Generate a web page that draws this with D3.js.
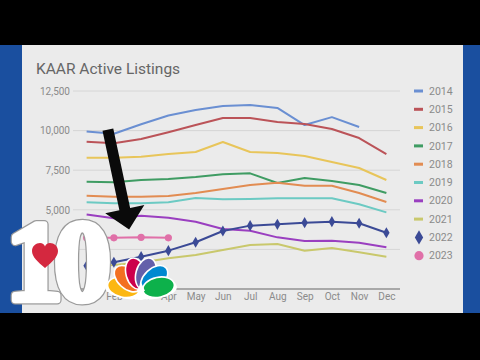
<!DOCTYPE html>
<html>
<head>
<meta charset="utf-8">
<script src="https://cdn.jsdelivr.net/npm/d3@7"></script>
<style>
  html, body { margin: 0; padding: 0; background: #000; }
  svg { display: block; }
</style>
</head>
<body>
<svg id="chart" width="480" height="360"></svg>
<script>
// Monthly active listings, KAAR, by year
const months = ["Jan","Feb","Mar","Apr","May","Jun","Jul","Aug","Sep","Oct","Nov","Dec"];
const years = ["2014","2015","2016","2017","2018","2019","2020","2021","2022","2023"];
const yTicks = [0, 2500, 5000, 7500, 10000, 12500];

const v2014 = [9950, 9800, 10400, 10950, 11300, 11550, 11620, 11430, 10350, 10850, 10230];
const v2015 = [9300, 9200, 9470, 9900, 10350, 10800, 10800, 10540, 10420, 10100, 9530, 8520];
const v2016 = [8290, 8290, 8350, 8520, 8650, 9280, 8650, 8590, 8400, 8020, 7640, 6880];
const v2017 = [6770, 6740, 6880, 6940, 7070, 7240, 7300, 6690, 7010, 6820, 6570, 6060];
const v2018 = [5890, 5830, 5830, 5870, 6060, 6310, 6570, 6710, 6520, 6520, 6060, 5490];
const v2019 = [5470, 5410, 5410, 5470, 5740, 5660, 5680, 5730, 5730, 5730, 5350, 4840];
const v2020 = [4700, 4460, 4630, 4500, 4240, 3790, 3680, 3260, 3030, 3050, 2920, 2630];
const v2021 = [1420, 1520, 1670, 1940, 2150, 2460, 2780, 2840, 2420, 2590, 2320, 2040];
const v2022 = [1470, 1690, 2040, 2420, 2950, 3660, 4000, 4080, 4190, 4250, 4150, 3550];
const v2023 = [3230, 3230, 3260, 3230];

const colors = ["#6a8fd2", "#bb5358", "#e8c55a", "#3f9c63", "#e28c52", "#6ccac3", "#9a3fc0", "#c9c86c", "#3b4a96", "#e070a8"];
const seriesValues = [v2014, v2015, v2016, v2017, v2018, v2019, v2020, v2021, v2022, v2023];

const series = years.map((yr, i) => ({
  year: yr,
  color: colors[i],
  marker: yr === "2022" ? "diamond" : (yr === "2023" ? "circle" : null),
  values: seriesValues[i].map((v, j) => ({ month: months[j], value: v }))
}));

const svg = d3.select("#chart");

// frame: black bars top/bottom, blue sides, light panel
svg.append("rect").attr("x", 0).attr("y", 0).attr("width", 480).attr("height", 360).attr("fill", "#000");
svg.append("rect").attr("x", 0).attr("y", 45).attr("width", 480).attr("height", 268).attr("fill", "#1a4f9f");
svg.append("rect").attr("x", 22).attr("y", 45).attr("width", 441).attr("height", 268).attr("fill", "#ebebeb");

svg.append("text")
  .attr("x", 36).attr("y", 74)
  .attr("font-family", "Roboto, sans-serif")
  .attr("font-size", 15.5)
  .attr("fill", "#666")
  .text("KAAR Active Listings");

const x = d3.scalePoint().domain(months).range([73, 400]).padding(0.5);
const y = d3.scaleLinear().domain([0, 12500]).range([289, 91]);

// gridlines
svg.append("g").selectAll("line")
  .data(yTicks.filter(t => t > 0))
  .join("line")
  .attr("x1", 73).attr("x2", 400)
  .attr("y1", d => y(d)).attr("y2", d => y(d))
  .attr("stroke", "#d6d6d6").attr("stroke-width", 1);

// y axis labels
const yAxis = d3.axisLeft(y).tickValues(yTicks).tickSize(0).tickPadding(0).tickFormat(d3.format(","));
const gy = svg.append("g").attr("transform", "translate(70,0)").call(yAxis);
gy.select(".domain").remove();
gy.selectAll("text").attr("font-family", "Roboto, sans-serif").attr("font-size", 10).attr("fill", "#8a8a8a");

// baseline
svg.append("line")
  .attr("x1", 73).attr("x2", 400).attr("y1", y(0)).attr("y2", y(0))
  .attr("stroke", "#a8a8a8").attr("stroke-width", 2);

// x axis labels
const xAxis = d3.axisBottom(x).tickSize(0).tickPadding(0);
const gx = svg.append("g").attr("transform", "translate(0,293)").call(xAxis);
gx.select(".domain").remove();
gx.selectAll("text").attr("font-family", "Roboto, sans-serif").attr("font-size", 10).attr("fill", "#8a8a8a");

// lines
const line = d3.line().x(d => x(d.month)).y(d => y(d.value));
const plot = svg.append("g");
series.forEach(s => {
  plot.append("path")
    .datum(s.values)
    .attr("d", line)
    .attr("fill", "none")
    .attr("stroke", s.color)
    .attr("stroke-width", 2)
    .attr("stroke-linejoin", "round");
  if (s.marker === "diamond") {
    plot.selectAll(null).data(s.values).join("path")
      .attr("d", d3.symbol(d3.symbolDiamond, 36))
      .attr("transform", d => `translate(${x(d.month)},${y(d.value)})`)
      .attr("fill", s.color);
  } else if (s.marker === "circle") {
    plot.selectAll(null).data(s.values).join("circle")
      .attr("cx", d => x(d.month)).attr("cy", d => y(d.value)).attr("r", 3.6)
      .attr("fill", s.color);
  }
});

// legend
const legend = svg.append("g").attr("transform", "translate(414,91)");
const rows = legend.selectAll("g").data(series).join("g")
  .attr("transform", (d, i) => `translate(0,${i * 18.3})`);
rows.each(function(d) {
  const g = d3.select(this);
  if (d.marker === "diamond") {
    g.append("path").attr("d", d3.symbol(d3.symbolDiamond, 60)).attr("transform", "translate(5,0)").attr("fill", d.color);
  } else if (d.marker === "circle") {
    g.append("circle").attr("cx", 5).attr("cy", 0).attr("r", 4.6).attr("fill", d.color);
  } else {
    g.append("rect").attr("x", 0).attr("y", -1.5).attr("width", 9).attr("height", 3).attr("fill", d.color);
  }
  g.append("text").attr("x", 15).attr("y", 0).attr("dy", "0.35em")
    .attr("font-family", "Roboto, sans-serif").attr("font-size", 10.5).attr("fill", "#8a8a8a")
    .text(d.year);
});

// pointer arrow toward the 2023 series (month index, value)
const arrowFrom = [0.78, 10060];
const arrowTo = [1.56, 3750];
const mi = d3.scaleLinear().domain([0, 11]).range([x("Jan"), x("Dec")]);
(function drawArrow() {
  const x0 = mi(arrowFrom[0]), y0 = y(arrowFrom[1]);
  const x1 = mi(arrowTo[0]), y1 = y(arrowTo[1]);
  const len = Math.hypot(x1 - x0, y1 - y0);
  const dx = (x1 - x0) / len, dy = (y1 - y0) / len;
  const nx = dy, ny = -dx;
  const sw = 5.5, hw = 20, hl = 21;
  const bx = x1 - hl * dx, by = y1 - hl * dy;
  const pts = [
    [x0 - sw * nx, y0 - sw * ny],
    [x0 + sw * nx, y0 + sw * ny],
    [bx + sw * nx, by + sw * ny],
    [bx + hw * nx, by + hw * ny],
    [x1, y1],
    [bx - hw * nx, by - hw * ny],
    [bx - sw * nx, by - sw * ny]
  ];
  svg.append("path").attr("d", d3.line()(pts) + "Z").attr("fill", "#0a0a0a");
})();

// station bug: heavy "10" with heart and peacock
const bug = svg.append("g");
const bugText = (stroke, width) => bug.append("text")
  .attr("x", 6).attr("y", 300)
  .attr("font-family", "'Liberation Serif', 'DejaVu Serif', serif")
  .attr("font-weight", "bold")
  .attr("font-size", 114)
  .attr("letter-spacing", -9)
  .attr("fill", "#fff")
  .attr("stroke", stroke)
  .attr("stroke-width", width)
  .attr("stroke-linejoin", "round")
  .text("10");
bugText("#9a9a9a", 9);
bugText("#ffffff", 6.5);

bug.append("path")
  .attr("d", "M45,268 C38,262 32,257 32,251 C32,246 36,243 40,243 C42.5,243 44.3,244.5 45,246.5 C45.7,244.5 47.5,243 50,243 C54,243 58,246 58,251 C58,257 52,262 45,268 Z")
  .attr("fill", "#d4283f");

const peacockColors = ["#fcb711", "#f37021", "#cc004c", "#6460aa", "#0089d0", "#0db14b"];
const angles = [-78, -47, -16, 16, 47, 78];
const base = [141, 291];
const fan = bug.append("g").attr("transform", `translate(${base[0]},${base[1]})`);
fan.append("ellipse").attr("cx", 0).attr("cy", -4).attr("rx", 36).attr("ry", 13).attr("fill", "#fff");
peacockColors.forEach((c, i) => {
  fan.append("ellipse")
    .attr("cx", 0).attr("cy", -18).attr("rx", 10).attr("ry", 16)
    .attr("transform", `rotate(${angles[i]})`)
    .attr("fill", c).attr("stroke", "#fff").attr("stroke-width", 1.6);
});
fan.append("path").attr("d", "M-4,0 L0,-9 L4,0 Z").attr("fill", "#fff");
</script>
</body>
</html>
